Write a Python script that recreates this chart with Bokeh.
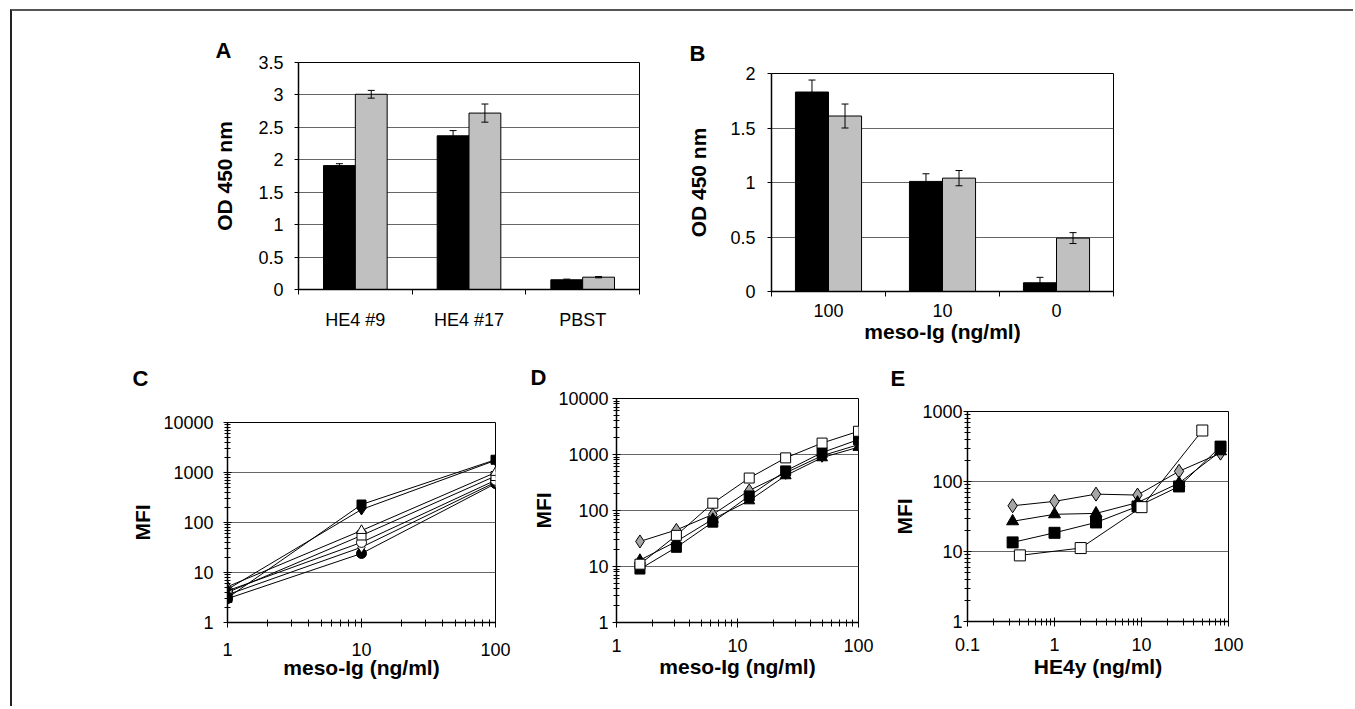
from bokeh.plotting import figure
from bokeh.models import Range1d, FixedTicker, Whisker, TeeHead, ColumnDataSource
from bokeh.layouts import row, column
from bokeh.embed import file_html
from bokeh.resources import INLINE

FONT = "Liberation Sans"

# ---------------- Panel A ----------------
a_categories = ["HE4 #9", "HE4 #17", "PBST"]
a_black = [1.91, 2.37, 0.15]
a_black_err = [0.03, 0.08, 0.01]
a_grey = [3.01, 2.72, 0.19]
a_grey_err = [0.06, 0.14, 0.01]
a_yticks = [0, 0.5, 1, 1.5, 2, 2.5, 3, 3.5]
a_ylabels = ["0", "0.5", "1", "1.5", "2", "2.5", "3", "3.5"]

# ---------------- Panel B ----------------
b_categories = ["100", "10", "0"]
b_black = [1.83, 1.01, 0.08]
b_black_err = [0.11, 0.07, 0.05]
b_grey = [1.61, 1.04, 0.49]
b_grey_err = [0.11, 0.07, 0.05]
b_yticks = [0, 0.5, 1, 1.5, 2]
b_ylabels = ["0", "0.5", "1", "1.5", "2"]

# ---------------- Panel C ----------------
c_x = [1, 10, 100]
c_filled_square = [3.1, 229, 1800]
c_filled_diamond = [4.6, 182, 1750]
c_open_triangle = [5.2, 69, 1000]
c_open_square = [4.0, 55, 850]
c_open_circle = [4.3, 40, 700]
c_open_diamond = [3.6, 32, 640]
c_filled_circle = [3.0, 24, 600]
c_xticks = [1, 10, 100]
c_xlabels = ["1", "10", "100"]
c_yticks = [1, 10, 100, 1000, 10000]
c_ylabels = ["1", "10", "100", "1000", "10000"]

# ---------------- Panel D ----------------
d_x = [1.5625, 3.125, 6.25, 12.5, 25, 50, 100]
d_open_square = [11, 36, 135, 380, 870, 1600, 2600]
d_grey_diamond = [28, 45, 85, 228, 470, 950, 1500]
d_filled_triangle = [13, 28, 70, 150, 420, 880, 1350]
d_filled_square = [9, 22, 62, 182, 510, 1080, 1850]
d_xticks = [1, 10, 100]
d_xlabels = ["1", "10", "100"]
d_yticks = [1, 10, 100, 1000, 10000]
d_ylabels = ["1", "10", "100", "1000", "10000"]

# ---------------- Panel E ----------------
e_x = [0.33, 1, 3, 9, 27, 81]
e_grey_diamond = [45, 52, 66, 64, 140, 254]
e_filled_triangle = [27, 34, 35, 50, 95, 270]
e_filled_square = [13.5, 18.5, 26, 44, 85, 315]
e_open_square_x = [0.4, 2, 10, 50]
e_open_square = [8.8, 11.2, 43, 535]
e_xticks = [0.1, 1, 10, 100]
e_xlabels = ["0.1", "1", "10", "100"]
e_yticks = [1, 10, 100, 1000]
e_ylabels = ["1", "10", "100", "1000"]

GRID = "#666666"
GREY_BAR = "#c0c0c0"
GREY_MK = "#a6a6a6"
LIFT = 40  # extra room above the lower row (overlaps the empty strip of the upper row)


def make_figure(letter, title_offset, title_standoff, **kw):
    p = figure(title=letter, output_backend="svg", toolbar_location=None, **kw)
    try:
        p.frame_align = False
    except Exception:
        pass
    p.title.text_font = FONT
    p.title.text_font_size = "22px"
    p.title.text_font_style = "bold"
    p.title.text_color = "black"
    p.title.align = "left"
    p.title.offset = title_offset
    p.title.standoff = title_standoff
    p.background_fill_color = "white"
    p.border_fill_color = "white"
    p.border_fill_alpha = 0
    p.outline_line_color = "black"
    p.outline_line_width = 1
    p.xgrid.visible = False
    p.ygrid.grid_line_color = GRID
    p.ygrid.grid_line_width = 1
    for ax in (p.xaxis[0], p.yaxis[0]):
        ax.axis_line_color = "black"
        ax.axis_line_width = 1.5
        ax.major_tick_line_color = "black"
        ax.minor_tick_line_color = "black"
        ax.major_label_text_font = FONT
        ax.major_label_text_font_size = "18px"
        ax.major_label_text_color = "black"
        ax.axis_label_text_font = FONT
        ax.axis_label_text_font_size = "21px"
        ax.axis_label_text_font_style = "bold"
        ax.axis_label_text_color = "black"
    return p


def bar_panel(cats, black, black_err, grey, grey_err, yticks, ylabels, ymax, bar_w,
              width, height, ml, mr, mt, mb, xlabel, letter, toff, tst,
              x_standoff, xlab_standoff, y_standoff, ylab_standoff):
    n = len(cats)
    p = make_figure(letter, toff, tst, width=width, height=height,
                    x_range=Range1d(0, n), y_range=Range1d(0, ymax),
                    min_border_left=ml, min_border_right=mr,
                    min_border_top=mt, min_border_bottom=mb)
    centers = [i + 0.5 for i in range(n)]
    src_b = ColumnDataSource(dict(x=[c - bar_w / 2 for c in centers], top=black,
                                  up=[v + e for v, e in zip(black, black_err)],
                                  lo=[v - e for v, e in zip(black, black_err)]))
    src_g = ColumnDataSource(dict(x=[c + bar_w / 2 for c in centers], top=grey,
                                  up=[v + e for v, e in zip(grey, grey_err)],
                                  lo=[v - e for v, e in zip(grey, grey_err)]))
    p.vbar(x="x", top="top", width=bar_w, bottom=0, source=src_b,
           fill_color="black", line_color="black", line_width=1)
    p.vbar(x="x", top="top", width=bar_w, bottom=0, source=src_g,
           fill_color=GREY_BAR, line_color="black", line_width=1)
    for src in (src_b, src_g):
        w = Whisker(source=src, base="x", upper="up", lower="lo", line_color="black",
                    line_width=1, level="overlay",
                    upper_head=TeeHead(size=7, line_color="black", line_width=1),
                    lower_head=TeeHead(size=7, line_color="black", line_width=1))
        p.add_layout(w)
    xa = p.xaxis[0]
    xa.ticker = FixedTicker(ticks=centers, minor_ticks=list(range(n + 1)))
    xa.major_label_overrides = dict(zip(centers, cats))
    xa.major_tick_out = 0
    xa.major_tick_in = 0
    xa.minor_tick_out = 5
    xa.minor_tick_in = 0
    xa.major_label_standoff = x_standoff
    if xlabel:
        xa.axis_label = xlabel
        xa.axis_label_standoff = xlab_standoff
    ya = p.yaxis[0]
    ya.ticker = FixedTicker(ticks=yticks)
    ya.major_label_overrides = dict(zip(yticks, ylabels))
    ya.major_tick_out = 4
    ya.major_tick_in = 0
    ya.minor_tick_out = 0
    ya.minor_tick_in = 0
    ya.major_label_standoff = y_standoff
    ya.axis_label = "OD 450 nm"
    ya.axis_label_standoff = ylab_standoff
    return p


def log_minor(ticks):
    out = []
    for t in ticks[:-1]:
        out += [t * k for k in range(2, 10)]
    return out


def log_panel(xr, yr, xticks, xlabels, yticks, ylabels, width, height, ml, mr, mt, mb,
              xlabel, letter, toff, tst, x_standoff, xlab_standoff, y_standoff, ylab_standoff):
    p = make_figure(letter, toff, tst, width=width, height=height,
                    x_axis_type="log", y_axis_type="log",
                    x_range=Range1d(*xr), y_range=Range1d(*yr),
                    min_border_left=ml, min_border_right=mr,
                    min_border_top=mt, min_border_bottom=mb)
    xa = p.xaxis[0]
    xa.ticker = FixedTicker(ticks=xticks, minor_ticks=log_minor(xticks))
    xa.major_label_overrides = dict(zip(xticks, xlabels))
    xa.major_tick_out = 5
    xa.major_tick_in = 4
    xa.minor_tick_out = 4
    xa.minor_tick_in = 3
    xa.major_label_standoff = x_standoff
    xa.axis_label = xlabel
    xa.axis_label_standoff = xlab_standoff
    ya = p.yaxis[0]
    ya.ticker = FixedTicker(ticks=yticks, minor_ticks=log_minor(yticks))
    ya.major_label_overrides = dict(zip(yticks, ylabels))
    ya.major_tick_out = 4
    ya.major_tick_in = 4
    ya.minor_tick_out = 3
    ya.minor_tick_in = 3
    ya.major_label_standoff = y_standoff
    ya.axis_label = "MFI"
    ya.axis_label_standoff = ylab_standoff
    return p


def series(p, x, y, marker, fill, size=10):
    p.line(x, y, line_color="black", line_width=1)
    return (x, y, marker, fill, size)


def draw_markers(p, specs):
    for x, y, marker, fill, size in specs:
        p.scatter(x, y, marker=marker, size=size, fill_color=fill,
                  line_color="black", line_width=1)


# Panel A
pA = bar_panel(a_categories, a_black, a_black_err, a_grey, a_grey_err, a_yticks, a_ylabels,
               3.5, 0.28, width=668, height=350, ml=286, mr=41, mt=51, mb=72,
               xlabel=None, letter="A", toff=-83, tst=0,
               x_standoff=15, xlab_standoff=0, y_standoff=11, ylab_standoff=19)

# Panel B
pB = bar_panel(b_categories, b_black, b_black_err, b_grey, b_grey_err, b_yticks, b_ylabels,
               2, 0.29, width=667, height=350, ml=91, mr=234, mt=62, mb=70,
               xlabel="meso-Ig (ng/ml)", letter="B", toff=-82, tst=16,
               x_standoff=7, xlab_standoff=0, y_standoff=12, ylab_standoff=17)

# Panel C
pC = log_panel((1, 100), (1, 10000), c_xticks, c_xlabels, c_yticks, c_ylabels,
               width=508, height=335 + LIFT, ml=215, mr=25, mt=61 + LIFT, mb=74,
               xlabel="meso-Ig (ng/ml)", letter="C", toff=-95, tst=64,
               x_standoff=15, xlab_standoff=-3, y_standoff=10, ylab_standoff=6)
specs = [
    series(pC, c_x, c_filled_circle, "circle", "black", 10),
    series(pC, c_x, c_open_diamond, "diamond", "white", 11),
    series(pC, c_x, c_open_circle, "circle", "white", 10),
    series(pC, c_x, c_open_square, "square", "white", 9),
    series(pC, c_x, c_open_triangle, "triangle", "white", 10),
    series(pC, c_x, c_filled_diamond, "diamond", "black", 11),
    series(pC, c_x, c_filled_square, "square", "black", 9),
]
draw_markers(pC, specs)

# Panel D
pD = log_panel((1, 100), (1, 10000), d_xticks, d_xlabels, d_yticks, d_ylabels,
               width=365, height=335 + LIFT, ml=96, mr=27, mt=37 + LIFT, mb=74,
               xlabel="meso-Ig (ng/ml)", letter="D", toff=-86, tst=18,
               x_standoff=11, xlab_standoff=0, y_standoff=4, ylab_standoff=0)
specs = [
    series(pD, d_x, d_grey_diamond, "diamond", GREY_MK, 13),
    series(pD, d_x, d_filled_triangle, "triangle", "black", 11),
    series(pD, d_x, d_filled_square, "square", "black", 10),
    series(pD, d_x, d_open_square, "square", "white", 10),
]
draw_markers(pD, specs)

# Panel E
pE = log_panel((0.1, 100), (1, 1000), e_xticks, e_xlabels, e_yticks, e_ylabels,
               width=462, height=335 + LIFT, ml=82, mr=119, mt=50 + LIFT, mb=75,
               xlabel="HE4y (ng/ml)", letter="E", toff=-77, tst=42,
               x_standoff=11, xlab_standoff=1, y_standoff=1, ylab_standoff=3)
specs = [
    series(pE, e_x, e_grey_diamond, "diamond", GREY_MK, 14),
    series(pE, e_x, e_filled_triangle, "triangle", "black", 12),
    series(pE, e_x, e_filled_square, "square", "black", 11),
    series(pE, e_open_square_x, e_open_square, "square", "white", 11),
]
draw_markers(pE, specs)

layout = column(
    row(pA, pB),
    row(pC, pD, pE, margin=(-LIFT, 0, 0, 0)),
    styles={"margin-left": "10px", "margin-top": "9px", "padding-right": "6px",
            "padding-bottom": "10px",
            "border-top": "2px solid #555555", "border-left": "2px solid #222222"},
)

with open("out.html", "w") as f:
    f.write(file_html(layout, INLINE))
